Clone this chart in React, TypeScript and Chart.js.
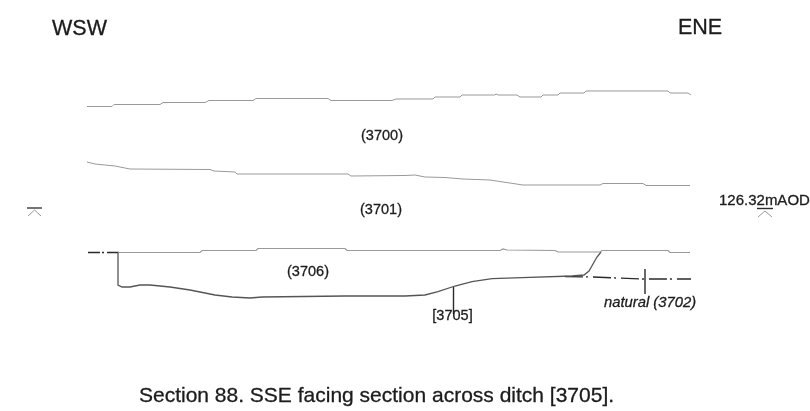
import React, { useEffect, useRef } from "react";
import { Chart, registerables } from "chart.js";

Chart.register(...registerables);

type P = [number, number];

const deposit3700Top: P[] = [[87,106.5],[112,106.5],[114,104.5],[160,104.5],[163,102.5],[205,102.5],[209,100.5],[253,100.5],[256,98.5],[328,98.5],[331,100.5],[392,100.5],[396,99],[433,99],[435,97],[460,97],[462,95],[495,95],[496,94],[498,95],[517,95],[520,97],[541,97],[543,95],[558,95],[560,93],[584,93],[586,91],[668,91],[670,93],[688,93],[691,95]];
const deposit3701Top: P[] = [[87,162],[95,164],[115,166],[130,169],[210,169.5],[214,171],[235,172],[237,174],[348,174],[351,176],[405,175.5],[415,175],[425,177],[445,177.5],[463,179],[490,180],[523,185],[600,185],[603,183.5],[643,183.5],[646,185.5],[690,185.5]];
const deposit3706Top: P[] = [[118,252.5],[200,252.5],[202,250.5],[256,250.5],[258,248.5],[345,248.5],[347,250.5],[500,250.5],[503,249],[507,250],[555,250.5],[558,252],[600,252],[602,250.5],[668,250.5],[670,252.5],[690,252.5]];
const ditchCut3705: P[] = [[118,252.5],[118,285],[122,287],[130,287],[140,285],[150,285],[170,287],[190,290],[215,295],[232,297],[250,298],[262,297],[345,296],[405,296],[425,295],[438,291.7],[455,286],[472,281.7],[492,278.7],[522,277.7],[572,276],[584,275],[589,271],[593,264],[597,257],[601,252]];
const naturalLeft: P[] = [[88,252.5],[119,252.5]];
const naturalRight: P[] = [[565,276.5],[593,277],[640,279],[691,279]];
const leader3705: P[] = [[453.5,287],[453.5,314]];
const leader3702: P[] = [[645,269],[645,294]];
const datumLeftBar: P[] = [[27,208],[42,208]];
const datumLeftArrow: P[] = [[28,216],[34.5,210],[41,216]];
const datumRightBar: P[] = [[757,208.5],[773,208.5]];
const datumRightArrow: P[] = [[758,217],[765,211],[772,217]];

const labelTexts = ["WSW", "ENE", "(3700)", "(3701)", "(3706)", "[3705]", "natural (3702)", "126.32mAOD", "Section 88. SSE facing section across ditch [3705]."];
const labelX = [79.5, 700, 382, 381, 308, 452.5, 650, 719, 376.5];
const labelY = [29, 28, 136, 210, 272, 316, 303, 201, 396];
const labelSize = [21.5, 21.5, 14.5, 14.5, 14.5, 14.5, 14.8, 15, 21];

const toXY = (pts: P[]) => pts.map(([x, y]) => ({ x, y }));
const GREY = "#999999";
const DARK = "#2a2a2a";

const line = (data: P[], color: string, width: number, dash: number[] = []) => ({
  data: toXY(data),
  showLine: true,
  borderColor: color,
  borderWidth: width,
  borderDash: dash,
  pointRadius: 0,
  tension: 0,
  fill: false,
});

const labelsPlugin = {
  id: "sectionLabels",
  afterDatasetsDraw(chart: any) {
    const { ctx, scales } = chart;
    ctx.save();
    ctx.fillStyle = "#1c1c1c";
    ctx.strokeStyle = "#1c1c1c";
    ctx.lineWidth = 0.3;
    ctx.textBaseline = "middle";
    labelTexts.forEach((t, i) => {
      const italic = t.startsWith("natural");
      ctx.font = `${italic ? "italic " : ""}${labelSize[i]}px "Liberation Sans", Arial, sans-serif`;
      ctx.textAlign = i === 7 ? "left" : "center";
      const px = scales.x.getPixelForValue(labelX[i]);
      const py = scales.y.getPixelForValue(labelY[i]);
      ctx.fillText(t, px, py);
      ctx.strokeText(t, px, py);
    });
    ctx.restore();
  },
};

export default function App() {
  const ref = useRef<HTMLCanvasElement>(null);
  useEffect(() => {
    document.body.style.margin = "0";
    document.body.style.background = "#fff";
    const chart = new Chart(ref.current!, {
      type: "scatter",
      data: {
        datasets: [
          line(deposit3700Top, GREY, 1),
          line(deposit3701Top, GREY, 1),
          line(deposit3706Top, GREY, 1.2),
          line(ditchCut3705, "#555555", 1.3),
          line(naturalLeft, DARK, 1.3, [12, 2, 2, 3]),
          line(naturalRight, DARK, 1.3, [18, 3, 2, 5]),
          line(leader3705, DARK, 1.4),
          line(leader3702, DARK, 1.4),
          line(datumLeftBar, DARK, 1.3),
          line(datumLeftArrow, GREY, 1),
          line(datumRightBar, DARK, 1.4),
          line(datumRightArrow, GREY, 1),
        ] as any,
      },
      options: {
        responsive: false,
        animation: false,
        layout: { padding: 0 },
        plugins: { legend: { display: false }, tooltip: { enabled: false }, title: { display: false } },
        scales: {
          x: { type: "linear", min: 0, max: 810, display: false },
          y: { type: "linear", min: 0, max: 411, reverse: true, display: false },
        },
      },
      plugins: [labelsPlugin],
    });
    return () => chart.destroy();
  }, []);
  return (
    <div style={{ width: 810, height: 411, overflow: "hidden" }}>
      <canvas ref={ref} width={810} height={411} style={{ display: "block", filter: "blur(0.5px)" }} />
    </div>
  );
}
